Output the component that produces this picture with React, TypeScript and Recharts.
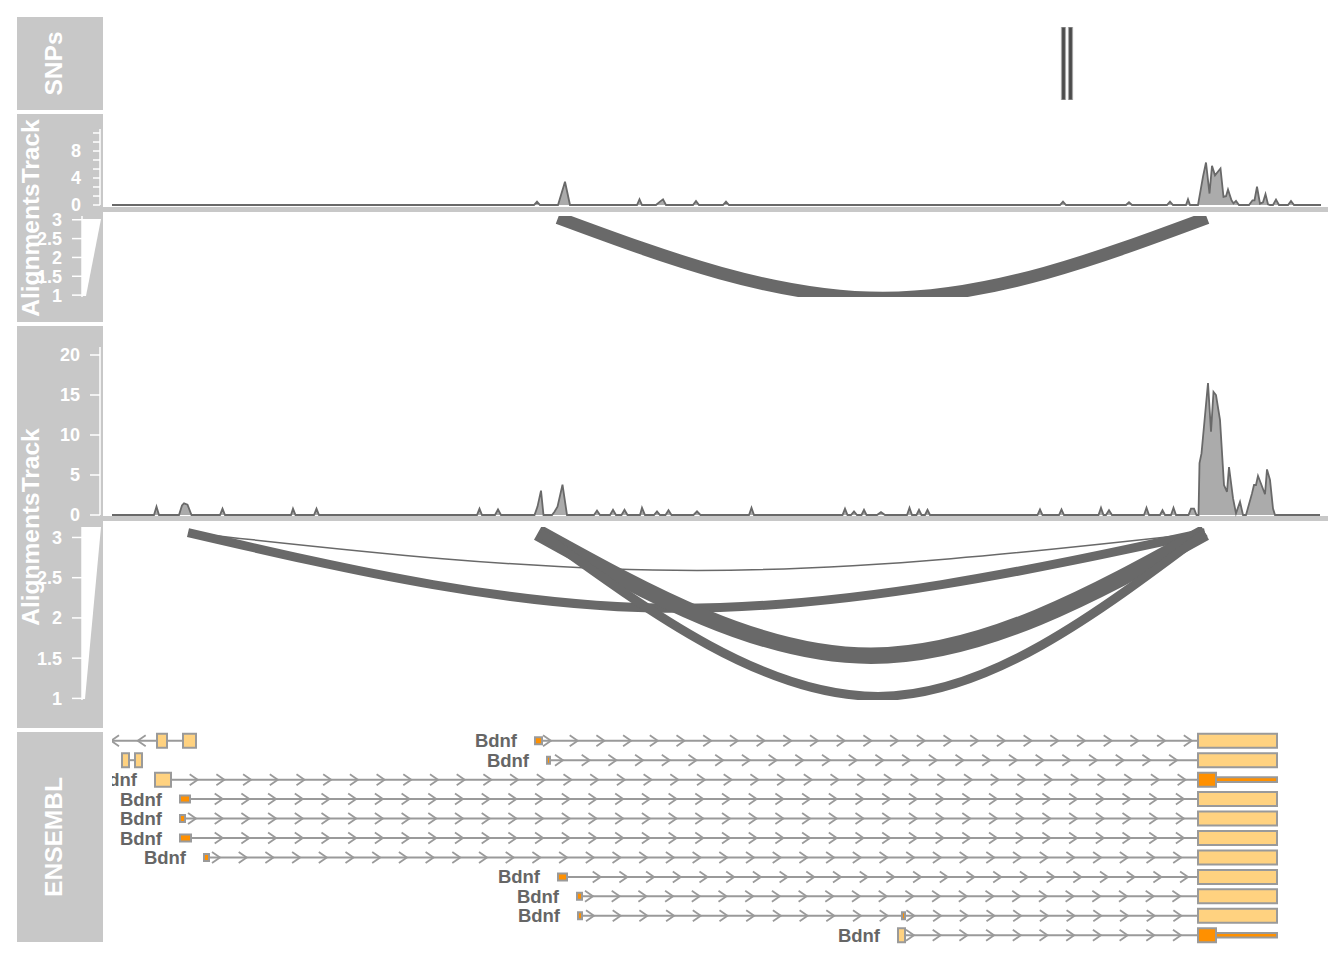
import React from "react";
import {
  ComposedChart,
  Area,
  Line,
  Bar,
  Scatter,
  XAxis,
  YAxis,
  ReferenceArea,
  ReferenceLine,
} from "recharts";

// all positions are kb from the left edge of the plotted window
const FONT = "'Liberation Sans', Arial, Helvetica, sans-serif";
const PANEL = "#c8c8c8";
const DARK = "#696969";
const LIGHT_ORANGE = "#ffd280";
const ORANGE = "#ff9000";
const GENE_GREY = "#9a9a9a";

// SNPs track
const snpPos = [95.5, 96.2];

// AlignmentsTrack 1 - coverage
const cov1Pos = [
  0.4,
  42.6, 42.9, 43.2,
  45.0, 45.7, 46.2,
  52.9, 53.15, 53.4,
  54.8, 55.2, 55.5, 55.8,
  58.5, 58.8, 59.1,
  61.5, 61.8, 62.1,
  95.2, 95.5, 95.8,
  101.8, 102.1, 102.4,
  105.9, 106.2, 106.5,
  107.8, 108.0, 108.2,
  109.0, 109.5, 109.8, 110.15, 110.4, 110.7, 111.25, 111.55, 111.8, 112.0, 112.35, 112.55, 112.8, 113.1,
  114.1, 114.45, 114.65, 114.9, 115.2, 115.5, 115.75, 116.0, 116.2,
  116.5, 116.8, 117.1,
  118.0, 118.3, 118.6,
  121.3,
];
const cov1Val = [
  0,
  0, 0.5, 0,
  0, 3.45, 0,
  0, 0.85, 0,
  0, 0.5, 0.85, 0,
  0, 0.6, 0,
  0, 0.5, 0,
  0, 0.5, 0,
  0, 0.4, 0,
  0, 0.5, 0,
  0, 0.85, 0,
  0, 4.2, 6.3, 1.7, 5.8, 4.4, 5.4, 1.2, 1.3, 2.3, 0.7, 0.25, 0.6, 0,
  0, 0.7, 0.7, 2.7, 0.2, 0.4, 1.6, 0.1, 0,
  0, 0.8, 0,
  0, 0.6, 0,
  0,
];
const cov1Ticks = [0, 1.33, 2.67, 4, 5.33, 6.67, 8, 9.33, 10.67];
const cov1TickLabels = ["0", "", "", "4", "", "", "8", "", ""];

// AlignmentsTrack 1 - sashimi junctions
const junc1From = [45.0];
const junc1To = [109.9];
const junc1ApexX = [77.5];
const junc1ApexY = [0.92];
const junc1Reads = [8.5];

// AlignmentsTrack 2 - coverage
const cov2Pos = [
  0.4,
  4.6, 4.85, 5.1,
  7.1, 7.4, 7.6, 7.95, 8.35,
  11.2, 11.45, 11.7,
  18.3, 18.5, 18.75,
  20.6, 20.85, 21.1,
  36.9, 37.15, 37.4,
  38.7, 39.0, 39.3,
  42.65, 42.95, 43.3, 43.55,
  44.4, 44.65, 44.95, 45.45, 45.9,
  48.6, 48.9, 49.2,
  50.2, 50.5, 50.8,
  51.35, 51.65, 51.95,
  53.2, 53.4, 53.7,
  54.6, 54.9, 55.2,
  55.75, 56.05, 56.35,
  58.55, 58.9, 59.25,
  64.1, 64.35, 64.6,
  73.45, 73.7, 73.95,
  74.3, 74.6, 74.9,
  75.35, 75.6, 75.85,
  76.9, 77.3, 77.7,
  79.9, 80.15, 80.4,
  80.85, 81.1, 81.35,
  81.7, 81.95, 82.2,
  92.95, 93.2, 93.45,
  95.1, 95.35, 95.6,
  99.05, 99.3, 99.55,
  99.8, 100.1, 100.4,
  103.6, 103.85, 104.1,
  105.2, 105.45, 105.7,
  106.3, 106.55, 106.8,
  108.05, 108.3, 108.6, 108.85,
  109.05, 109.15, 109.35, 110.0, 110.3, 110.55, 110.8, 111.2, 111.6, 111.9, 112.1, 112.5, 112.8, 113.2, 113.5,
  113.8, 114.4, 114.6, 114.8, 115.0, 115.7, 115.9, 116.2, 116.5, 116.7,
  121.2,
];
const cov2Val = [
  0,
  0, 1.05, 0,
  0, 1.2, 1.45, 1.3, 0,
  0, 0.8, 0,
  0, 0.8, 0,
  0, 0.8, 0,
  0, 0.8, 0,
  0, 0.7, 0,
  0, 1.05, 3.05, 0,
  0, 0.4, 1.05, 3.8, 0,
  0, 0.55, 0,
  0, 0.65, 0,
  0, 0.65, 0,
  0, 0.9, 0,
  0, 0.45, 0,
  0, 0.6, 0,
  0, 0.45, 0,
  0, 0.9, 0,
  0, 0.8, 0,
  0, 0.45, 0,
  0, 0.65, 0,
  0, 0.35, 0,
  0, 0.9, 0,
  0, 0.65, 0,
  0, 0.65, 0,
  0, 0.7, 0,
  0, 0.7, 0,
  0, 0.9, 0,
  0, 0.6, 0,
  0, 0.9, 0,
  0, 0.6, 0,
  0, 0.9, 0,
  0, 0.8, 0.8, 0,
  0, 6.5, 7.7, 16.5, 10.4, 15.4, 15.0, 11.9, 3.75, 2.9, 6.0, 2.1, 0.2, 1.65, 0,
  0, 2.7, 3.75, 3.75, 4.9, 2.6, 5.7, 4.4, 0.8, 0,
  0,
];
const cov2Ticks = [0, 5, 10, 15, 20];
const cov2TickLabels = ["0", "5", "10", "15", "20"];

// AlignmentsTrack 2 - sashimi junctions
const junc2From = [8.0, 8.0, 43.0, 43.2];
const junc2To = [109.7, 109.7, 109.7, 109.7];
const junc2ApexX = [58.9, 57.0, 76.3, 77.0];
const junc2ApexY = [2.59, 2.12, 1.53, 1.025];
const junc2Reads = [1, 6, 11, 6];

const sashimiTicks = [1, 1.5, 2, 2.5, 3];

// ENSEMBL transcripts
const txRow = [1, 2, 1, 2, 3, 4, 5, 6, 7, 8, 9, 10, 11];
const txStart = [0.4, 1.4, 42.7, 43.9, 4.7, 7.2, 7.2, 7.2, 9.6, 45.0, 46.9, 47.0, 79.0];
const txEnd = [8.8, 3.4, 116.9, 116.9, 116.9, 116.9, 116.9, 116.9, 116.9, 116.9, 116.9, 116.9, 116.9];
const txStrand = ["-", "-", "+", "+", "+", "+", "+", "+", "+", "+", "+", "+", "+"];
const txLabel = ["", "", "Bdnf", "Bdnf", "Bdnf", "Bdnf", "Bdnf", "Bdnf", "Bdnf", "Bdnf", "Bdnf", "Bdnf", "Bdnf"];

// exons: [transcript index, start, end, feature]
const exons: [number, number, number, string][] = [
  [0, 4.9, 5.9, "exon"], [0, 7.5, 8.8, "exon"],
  [1, 1.4, 2.1, "exon"], [1, 2.7, 3.4, "exon"],
  [2, 42.7, 43.4, "utr"], [2, 109.0, 116.9, "exon"],
  [3, 43.9, 44.2, "utr"], [3, 109.0, 116.9, "exon"],
  [4, 4.7, 6.3, "exon"], [4, 109.0, 110.8, "cds"], [4, 110.8, 116.9, "utr3"],
  [5, 7.2, 8.2, "utr"], [5, 109.0, 116.9, "exon"],
  [6, 7.2, 7.7, "utr"], [6, 109.0, 116.9, "exon"],
  [7, 7.2, 8.3, "utr"], [7, 109.0, 116.9, "exon"],
  [8, 9.6, 10.1, "utr"], [8, 109.0, 116.9, "exon"],
  [9, 45.0, 45.9, "utr"], [9, 109.0, 116.9, "exon"],
  [10, 46.9, 47.4, "utr"], [10, 109.0, 116.9, "exon"],
  [11, 47.0, 47.4, "utr"], [11, 79.4, 79.7, "utr"], [11, 109.0, 116.9, "exon"],
  [12, 79.0, 79.7, "exon"], [12, 109.0, 110.8, "cds"], [12, 110.8, 116.9, "utr3"],
];

const titles = ["SNPs", "AlignmentsTrack", "AlignmentsTrack", "ENSEMBL"];
const panelTop = [17, 114, 326, 732];
const panelBottom = [110, 322, 728, 942];
const titleBaseline = [62, 39, 39, 62];

const ZERO = { top: 0, right: 0, bottom: 0, left: 0 };
const PAD = 12;
const PADDED = { top: PAD, right: 0, bottom: PAD, left: 0 };

const pairs = (xs: number[], ys: number[]) => xs.map((x, i) => ({ x, y: ys[i] }));

const axisStyle = {
  axisLine: { stroke: "#fff", strokeWidth: 1.5 },
  tickLine: { stroke: "#fff", strokeWidth: 1.5 },
  tick: { fill: "#fff", fontSize: 18, fontWeight: "bold" as const },
};

function Coverage({ top, height, max, xs, ys, ticks, labels, tickSize, tickMargin }: any) {
  return (
    <div style={{ position: "absolute", left: 40, top: top - PAD }}>
      <ComposedChart width={1288} height={height + 2 * PAD} data={pairs(xs, ys)} margin={PADDED}>
        <XAxis type="number" dataKey="x" domain={[-0.8, 122]} hide />
        <YAxis
          type="number"
          domain={[0, max]}
          ticks={ticks}
          interval={0}
          width={60}
          tickSize={tickSize}
          tickMargin={tickMargin}
          tickFormatter={(_v: number, i: number) => labels[i]}
          {...axisStyle}
        />
        <Area
          type="linear"
          dataKey="y"
          stroke={DARK}
          strokeWidth={1.8}
          fill="#ababab"
          fillOpacity={1}
          dot={false}
          activeDot={false}
          isAnimationActive={false}
        />
      </ComposedChart>
    </div>
  );
}

function Sashimi({ top, height, domain, from, to, apexX, apexY, reads, endY }: any) {
  return (
    <div style={{ position: "absolute", left: 22, top: top - PAD }}>
      <ComposedChart width={1306} height={height + 2 * PAD} margin={PADDED}>
        <XAxis type="number" dataKey="x" domain={[-2.6, 122]} hide allowDataOverflow />
        <YAxis
          type="number"
          dataKey="y"
          domain={domain}
          ticks={sashimiTicks}
          interval={0}
          width={60}
          tickSize={10}
          tickMargin={10}
          allowDataOverflow
          {...axisStyle}
        />
        {from.map((f: number, i: number) => (
          <Line
            key={i}
            data={[
              { x: f, y: endY },
              { x: apexX[i], y: apexY[i] },
              { x: to[i], y: endY },
            ]}
            dataKey="y"
            type="monotone"
            stroke={DARK}
            strokeWidth={reads[i] * 1.5}
            dot={false}
            activeDot={false}
            isAnimationActive={false}
          />
        ))}
      </ComposedChart>
    </div>
  );
}

function IntronLine(props: any) {
  const { x1, y1, x2, tx } = props;
  if (x1 == null || isNaN(x1)) return null;
  const k = (x2 - x1) / (txEnd[tx] - txStart[tx]);
  const blocks = exons
    .filter((e) => e[0] === tx)
    .map((e) => [x1 + (e[1] - txStart[tx]) * k, x1 + (e[2] - txStart[tx]) * k]);
  const plus = txStrand[tx] === "+";
  const marks: number[] = [];
  for (let cx = x1 + (plus ? 12 : 3); cx < x2 - 6; cx += 26.7) {
    if (blocks.some(([a, b]) => cx > a - 4 && cx < b + 4)) continue;
    marks.push(cx);
  }
  return (
    <g>
      <line x1={x1} y1={y1} x2={x2} y2={y1} stroke={GENE_GREY} strokeWidth={2} />
      {marks.map((cx, i) => (
        <path
          key={i}
          d={
            plus
              ? `M${cx - 4},${y1 - 5.5} L${cx + 4},${y1} L${cx - 4},${y1 + 5.5}`
              : `M${cx + 4},${y1 - 5.5} L${cx - 4},${y1} L${cx + 4},${y1 + 5.5}`
          }
          fill="none"
          stroke={GENE_GREY}
          strokeWidth={1.8}
        />
      ))}
    </g>
  );
}

function GeneLabel(props: any) {
  const { cx, cy, payload } = props;
  if (!payload || !payload.name) return <g />;
  return (
    <text
      x={cx - 18}
      y={cy}
      textAnchor="end"
      dominantBaseline="central"
      fill="#666"
      fontSize={18.5}
      fontWeight="bold"
    >
      {payload.name}
    </text>
  );
}

const halfHeight: Record<string, number> = { exon: 0.36, cds: 0.36, utr: 0.18, utr3: 0.12 };
const featureFill: Record<string, string> = { exon: LIGHT_ORANGE, cds: ORANGE, utr: ORANGE, utr3: ORANGE };

function GeneTrack() {
  const labelData = txStart.map((s, i) => ({ x: s, y: txRow[i], name: txLabel[i] }));
  return (
    <div style={{ position: "absolute", left: 112, top: 731, width: 1216, height: 214, overflow: "hidden" }}>
      <div style={{ position: "absolute", left: -4, top: 0 }}>
        <ComposedChart width={1220} height={214} data={labelData} margin={ZERO}>
          <XAxis type="number" dataKey="x" domain={[0, 122]} hide />
          <YAxis type="number" dataKey="y" domain={[0.5, 11.5]} reversed hide />
          {txStart.map((s, i) => (
            <ReferenceLine
              key={i}
              segment={[
                { x: s, y: txRow[i] },
                { x: txEnd[i], y: txRow[i] },
              ]}
              ifOverflow="visible"
              stroke={GENE_GREY}
              shape={(p: any) => <IntronLine {...p} tx={i} />}
            />
          ))}
        </ComposedChart>
      </div>
      <div style={{ position: "absolute", left: -4, top: 0 }}>
        <ComposedChart width={1220} height={214} margin={ZERO}>
          <XAxis type="number" dataKey="x" domain={[0, 122]} hide />
          <YAxis type="number" dataKey="y" domain={[0.5, 11.5]} reversed hide />
          {exons.map(([t, s, e, kind], i) => (
            <ReferenceArea
              key={i}
              x1={s}
              x2={e}
              y1={txRow[t] - halfHeight[kind]}
              y2={txRow[t] + halfHeight[kind]}
              fill={featureFill[kind]}
              fillOpacity={1}
              stroke={GENE_GREY}
              strokeWidth={2}
              ifOverflow="visible"
            />
          ))}
          <Scatter data={labelData} dataKey="y" shape={GeneLabel} isAnimationActive={false} />
        </ComposedChart>
      </div>
    </div>
  );
}

export default function App() {
  const snpData = snpPos.map((x) => ({ x, h: 1 }));
  return (
    <div
      style={{
        position: "absolute",
        left: 0,
        top: 0,
        width: 1344,
        height: 960,
        background: "#fff",
        fontFamily: FONT,
        overflow: "hidden",
      }}
    >
      <svg width={1344} height={960} style={{ position: "absolute", left: 0, top: 0 }}>
        {titles.map((t, i) => (
          <g key={i}>
            <rect x={17} y={panelTop[i]} width={86} height={panelBottom[i] - panelTop[i]} fill={PANEL} />
            <text
              transform={`translate(${titleBaseline[i]},${(panelTop[i] + panelBottom[i]) / 2}) rotate(-90)`}
              textAnchor="middle"
              fill="#fff"
              fontSize={24.5}
              fontWeight="bold"
              fontFamily={FONT}
            >
              {t}
            </text>
          </g>
        ))}
        <rect x={103} y={207} width={1225} height={5} fill={PANEL} />
        <rect x={103} y={516} width={1225} height={5} fill={PANEL} />
        <polygon points="82,219 101,219 86,296 82,296" fill="#fff" />
        <polygon points="82,527 101,527 85,699 82,699" fill="#fff" />
      </svg>

      <div style={{ position: "absolute", left: 108, top: 27 }}>
        <ComposedChart width={1220} height={73} data={snpData} margin={ZERO}>
          <XAxis type="number" dataKey="x" domain={[0, 122]} hide />
          <YAxis type="number" domain={[0, 1]} hide />
          <Bar dataKey="h" barSize={4} fill="#4a4a4a" stroke="#a5a5a5" strokeWidth={1.2} isAnimationActive={false} />
        </ComposedChart>
      </div>

      <Coverage
        top={129}
        height={76}
        max={11.26}
        xs={cov1Pos}
        ys={cov1Val}
        ticks={cov1Ticks}
        labels={cov1TickLabels}
        tickSize={7}
        tickMargin={12}
      />
      <Sashimi
        top={216}
        height={81}
        domain={[0.95, 3.1]}
        from={junc1From}
        to={junc1To}
        apexX={junc1ApexX}
        apexY={junc1ApexY}
        reads={junc1Reads}
        endY={3.05}
      />

      <Coverage
        top={347}
        height={168}
        max={21}
        xs={cov2Pos}
        ys={cov2Val}
        ticks={cov2Ticks}
        labels={cov2TickLabels}
        tickSize={10}
        tickMargin={10}
      />
      <Sashimi
        top={527}
        height={173}
        domain={[0.98, 3.13]}
        from={junc2From}
        to={junc2To}
        apexX={junc2ApexX}
        apexY={junc2ApexY}
        reads={junc2Reads}
        endY={3.06}
      />

      <GeneTrack />
    </div>
  );
}
